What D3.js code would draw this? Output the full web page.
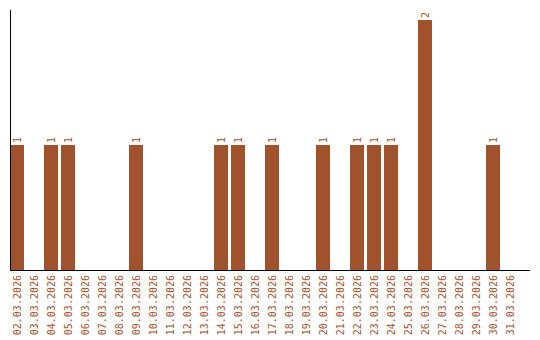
<!DOCTYPE html>
<html><head><meta charset="utf-8">
<script src="https://cdn.jsdelivr.net/npm/d3@7"></script>
<style>body{margin:0;background:#fff}</style>
</head><body>
<svg id="c" width="540" height="340"></svg>
<script>
const categories = ["02.03.2026","03.03.2026","04.03.2026","05.03.2026","06.03.2026","07.03.2026","08.03.2026","09.03.2026","10.03.2026","11.03.2026","12.03.2026","13.03.2026","14.03.2026","15.03.2026","16.03.2026","17.03.2026","18.03.2026","19.03.2026","20.03.2026","21.03.2026","22.03.2026","23.03.2026","24.03.2026","25.03.2026","26.03.2026","27.03.2026","28.03.2026","29.03.2026","30.03.2026","31.03.2026"];
const values = [1,0,1,1,0,0,0,1,0,0,0,0,1,1,0,1,0,0,1,0,1,1,1,0,2,0,0,0,1,0];

const svg = d3.select("#c");
const color = "#a0522d";
const font = "DejaVu Sans Mono, monospace";
const x = d3.scaleBand().domain(categories).range([10, 520]);
const barW = x.bandwidth() - 3;
const y = d3.scaleLinear().domain([0, 2.08]).range([270, 10]);

svg.selectAll("rect.bar").data(values).enter().append("rect")
  .attr("class", "bar")
  .attr("x", (d,i) => x(categories[i]))
  .attr("width", barW)
  .attr("y", d => y(d))
  .attr("height", d => y(0) - y(d))
  .attr("fill", color);

values.forEach((d,i) => {
  if (d > 0) {
    svg.append("text")
      .attr("transform", `translate(${x(categories[i]) + barW/2 + 3.5},${y(d) - 2}) rotate(-90)`)
      .attr("font-family", font)
      .attr("font-size", 10)
      .attr("fill", color)
      .text(d);
  }
});

const gx = svg.append("g").attr("transform", "translate(0,270)")
  .call(d3.axisBottom(x).tickSize(0).tickPadding(0));
gx.select(".domain").remove();
gx.selectAll("text")
  .attr("font-family", font)
  .attr("font-size", 10)
  .attr("fill", color)
  .attr("text-anchor", "end")
  .attr("dy", null)
  .attr("y", 0)
  .attr("x", 0)
  .attr("transform", "translate(2.5,5) rotate(-90)");

svg.append("line").attr("x1", 10).attr("x2", 530).attr("y1", 270.5).attr("y2", 270.5).attr("stroke", "#000");
svg.append("line").attr("x1", 10.5).attr("x2", 10.5).attr("y1", 10).attr("y2", 270).attr("stroke", "#000");
</script>
</body></html>
